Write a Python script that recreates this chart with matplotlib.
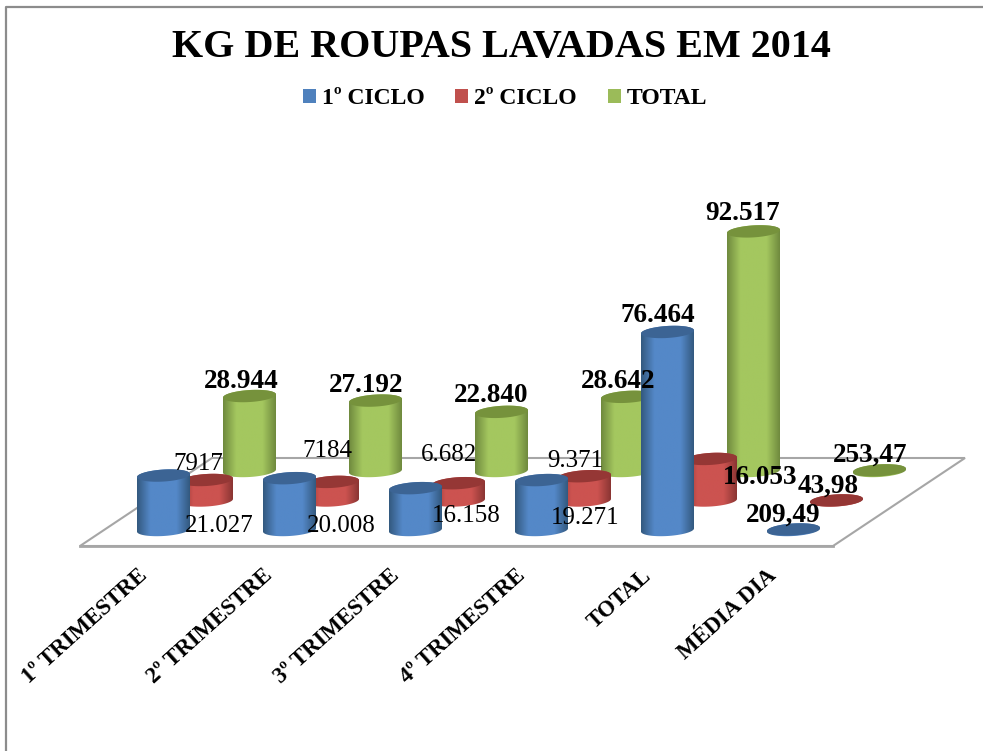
import numpy as np
import matplotlib
matplotlib.use('Agg')
import matplotlib.pyplot as plt
from matplotlib.colors import LinearSegmentedColormap
from matplotlib.patches import Patch, Polygon

plt.rcParams['font.family'] = ['Liberation Serif', 'DejaVu Serif']

categories = ['1º TRIMESTRE', '2º TRIMESTRE', '3º TRIMESTRE', '4º TRIMESTRE', 'TOTAL', 'MÉDIA DIA']
series_names = ['1º CICLO', '2º CICLO', 'TOTAL']

ciclo_1 = [21027, 20008, 16158, 19271, 76464, 209.49]
ciclo_2 = [7917, 7184, 6682, 9371, 16053, 43.98]
total = [28944, 27192, 22840, 28642, 92517, 253.47]

labels_1 = ['21.027', '20.008', '16.158', '19.271', '76.464', '209,49']
labels_2 = ['7917', '7184', '6.682', '9.371', '16.053', '43,98']
labels_3 = ['28.944', '27.192', '22.840', '28.642', '92.517', '253,47']

# side, centre, side and top colour of each cylinder
colors = [('#33597f', '#5488c8', '#3c6494'),
          ('#8a3533', '#cc5350', '#953735'),
          ('#6f8a3e', '#a4c75f', '#76923c')]
legend_colors = ['#4f81bd', '#c0504d', '#9bbb59']

# label centres in pixels, and which of them are bold
label_pos = [
    [(219, 526), (341, 526), (466, 516), (585, 518), (658, 316), (783, 515)],
    [(198, 464), (327, 451), (449, 455), (575, 461), (760, 478), (828, 486)],
    [(241, 381), (366, 385), (491, 396), (618, 381), (743, 214), (870, 455)],
]
label_bold = [
    [False, False, False, False, True, True],
    [False, False, False, False, True, True],
    [True, True, True, True, True, True],
]

CYL_W = 53
CYL_H = 12
TILT = 0.06
Y_SCALE = 0.00259


def project(cat, ser, value=0):
    # floor position of a category/series pair, raised by the value
    x = 163.5 + 126 * cat + 43 * ser
    y = 530 - 29.5 * ser - value * Y_SCALE
    return x, y


def arc(x, y, t):
    # part of the slightly tilted ellipse around x, y
    dx = CYL_W / 2 * np.cos(t)
    return np.c_[x + dx, y + CYL_H / 2 * np.sin(t) - TILT * dx]


def draw_cylinder(ax, cat, ser, value, z):
    x, y_top = project(cat, ser, value)
    y_base = project(cat, ser)[1]
    edge, mid, top = colors[ser]

    lower = arc(x, y_base, np.linspace(0, np.pi, 60))
    upper = arc(x, y_top, np.linspace(np.pi, 2 * np.pi, 60))
    body = Polygon(np.r_[lower, upper], closed=True, fc='none', ec='none', zorder=z)
    ax.add_patch(body)

    cmap = LinearSegmentedColormap.from_list('c', [(0, edge), (0.25, mid), (0.75, mid), (1, edge)])
    grad = np.linspace(0, 1, 128).reshape(1, -1)
    img = ax.imshow(grad, cmap=cmap, extent=(x - CYL_W / 2, x + CYL_W / 2, y_base + 12, y_top - 12),
                    aspect='auto', zorder=z, interpolation='bilinear')
    img.set_clip_path(body)

    lid = arc(x, y_top, np.linspace(0, 2 * np.pi, 120))
    ax.add_patch(Polygon(lid, closed=True, fc=top, ec='none', zorder=z + 0.5))


fig = plt.figure(figsize=(9.83, 7.51), dpi=100)
ax = fig.add_axes([0, 0, 1, 1])
ax.axis('off')

# floor
floor = Polygon([(80, 546), (833, 546), (965, 458), (212, 458)], closed=True,
                fc='white', ec='#a6a6a6', lw=1.5, zorder=1)
ax.add_patch(floor)
ax.plot([80, 833], [546, 546], color='#a6a6a6', lw=2, zorder=1)

# chart frame
ax.plot([6, 6, 983], [751, 7, 7], color='#8c8c8c', lw=1.6, zorder=1)

all_series = [ciclo_1, ciclo_2, total]
z = 2
for ser in [2, 1, 0]:
    for cat, val in enumerate(all_series[ser]):
        draw_cylinder(ax, cat, ser, val, z)
        z += 1

all_labels = [labels_1, labels_2, labels_3]
for ser in range(3):
    for cat, txt in enumerate(all_labels[ser]):
        bold = label_bold[ser][cat]
        ax.text(*label_pos[ser][cat], txt, ha='center', va='center', color='black',
                fontsize=19.5 if bold else 18, fontweight='bold' if bold else 'normal', zorder=100)

for cat, name in enumerate(categories):
    x = 137 + 126 * cat
    ax.text(x, 565, name, rotation=42, rotation_mode='anchor', ha='right', va='top',
            fontsize=16.4, fontweight='bold', color='black', zorder=100)

ax.text(501, 47, 'KG DE ROUPAS LAVADAS EM 2014', ha='center', va='center',
        fontsize=28.9, fontweight='bold', color='black')

handles = [Patch(fc=c, ec='none', label=n) for c, n in zip(legend_colors, series_names)]
prop = {'family': 'Liberation Serif', 'weight': 'bold', 'size': 17}
ax.legend(handles=handles, ncol=3, loc='center', bbox_to_anchor=(505, 99),
          bbox_transform=ax.transData, frameon=False, prop=prop,
          handlelength=0.55, handleheight=0.55, handletextpad=0.25, columnspacing=1.3)

ax.set_xlim(0, 983)
ax.set_ylim(751, 0)

fig.savefig('out.png', dpi=100)
